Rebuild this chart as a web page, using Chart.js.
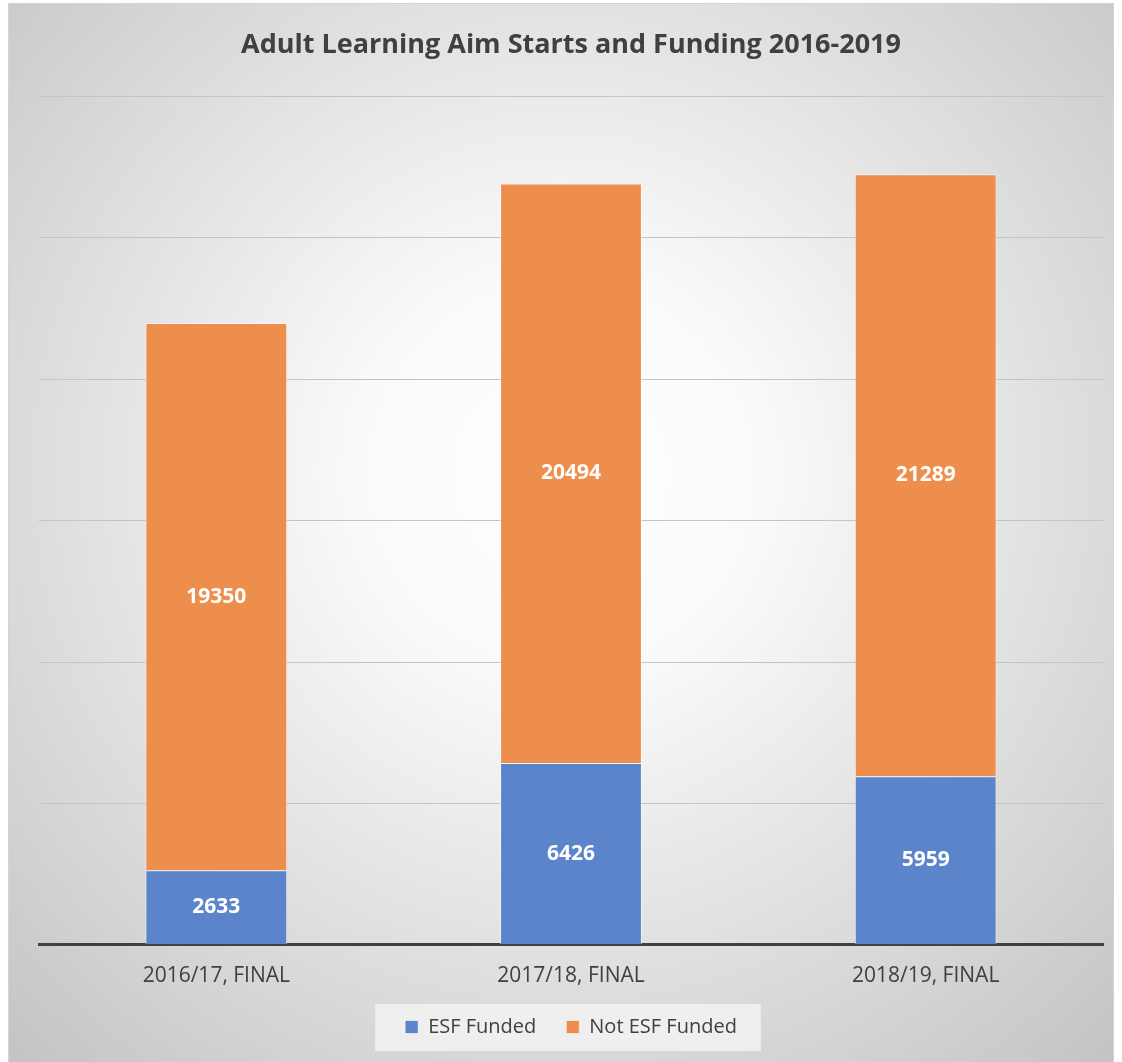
<!DOCTYPE html>
<html>
<head>
<meta charset="utf-8">
<script src="https://cdn.jsdelivr.net/npm/chart.js@4/dist/chart.umd.min.js"></script>
<style>
  html, body { margin: 0; padding: 0; background: #fff; }
  #wrap {
    position: absolute; left: 8px; top: 3px;
    width: 1104px; height: 1059px;
    border: 1px solid #d4d4d4; border-bottom: none;
  }
</style>
</head>
<body>
<div id="wrap"><canvas id="chart" width="1104" height="1059"></canvas></div>
<script>
const categories = ['2016/17, FINAL', '2017/18, FINAL', '2018/19, FINAL'];
const esfFunded = [2633, 6426, 5959];
const notEsfFunded = [19350, 20494, 21289];
const seriesNames = ['ESF Funded', 'Not ESF Funded'];

const FONT = "'Open Sans', 'DejaVu Sans', sans-serif";

// gradient background + legend panel, drawn before everything else
const backdrop = {
  id: 'backdrop',
  beforeDraw(chart) {
    const { ctx, width, height } = chart;
    ctx.save();
    const g = ctx.createRadialGradient(552, 470, 0, 552, 470, 800);
    g.addColorStop(0, '#ffffff');
    g.addColorStop(0.25, '#fafafa');
    g.addColorStop(1, '#c4c4c4');
    ctx.fillStyle = g;
    ctx.fillRect(0, 0, width, height);

    const boxes = chart.legend && chart.legend.legendHitBoxes;
    if (boxes && boxes.length) {
      const left = Math.min(...boxes.map(b => b.left)) - 30;
      const right = Math.max(...boxes.map(b => b.left + b.width)) + 24;
      const cy = boxes[0].top + boxes[0].height / 2;
      ctx.fillStyle = 'rgba(242,242,242,0.85)';
      ctx.fillRect(left, cy - 23, right - left, 47);
    }
    ctx.restore();
  }
};

// values written in the middle of each stacked segment
const segmentLabels = {
  id: 'segmentLabels',
  afterDatasetsDraw(chart) {
    const { ctx } = chart;
    ctx.save();
    ctx.font = `bold 21px ${FONT}`;
    ctx.fillStyle = '#ffffff';
    ctx.textAlign = 'center';
    ctx.textBaseline = 'middle';
    chart.data.datasets.forEach((ds, i) => {
      chart.getDatasetMeta(i).data.forEach((bar, j) => {
        const y = (bar.y + bar.base) / 2;
        ctx.fillText(String(ds.data[j]), bar.x, y);
      });
    });
    ctx.restore();
  }
};

new Chart(document.getElementById('chart'), {
  type: 'bar',
  data: {
    labels: categories,
    datasets: [
      {
        label: seriesNames[0],
        data: esfFunded,
        backgroundColor: '#5b84ca',
        borderColor: 'rgba(255,255,255,0.55)',
        borderWidth: 1,
      },
      {
        label: seriesNames[1],
        data: notEsfFunded,
        backgroundColor: '#ee8e4c',
        borderColor: 'rgba(255,255,255,0.55)',
        borderWidth: 1,
      },
    ],
  },
  options: {
    responsive: false,
    animation: false,
    events: [],
    layout: { padding: { left: 30, right: 10, bottom: 16 } },
    datasets: { bar: { categoryPercentage: 0.8, barPercentage: 0.5 } },
    plugins: {
      title: {
        display: true,
        text: 'Adult Learning Aim Starts and Funding 2016-2019',
        color: '#404040',
        font: { family: FONT, size: 27, weight: 'bold' },
        padding: { top: 25, bottom: 35 },
      },
      legend: {
        position: 'bottom',
        labels: {
          color: '#404040',
          font: { family: FONT, size: 20 },
          boxWidth: 13,
          boxHeight: 13,
          padding: 30,
        },
      },
      tooltip: { enabled: false },
    },
    scales: {
      x: {
        stacked: true,
        grid: { display: false, drawTicks: false },
        border: { display: true, color: '#404040', width: 3 },
        ticks: { color: '#404040', font: { family: FONT, size: 21 }, padding: 19 },
        afterFit(scale) { scale.height -= 21; },
      },
      y: {
        stacked: true,
        min: 0,
        max: 30000,
        ticks: { display: false, stepSize: 5000 },
        grid: { color: '#c4c4c4', lineWidth: 1, drawTicks: false },
        border: { display: false },
      },
    },
  },
  plugins: [backdrop, segmentLabels],
});
</script>
</body>
</html>
